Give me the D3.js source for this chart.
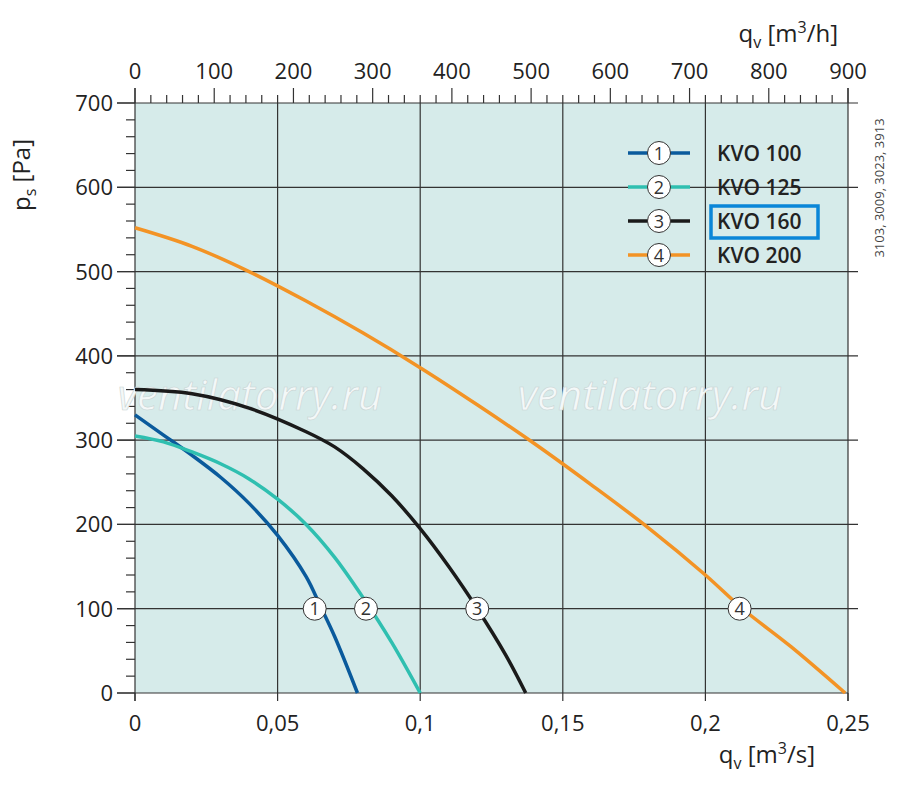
<!DOCTYPE html>
<html><head><meta charset="utf-8">
<script src="https://cdn.jsdelivr.net/npm/d3@7"></script>
<style>body{margin:0;background:#fff}text{font-family:"Open Sans","Noto Sans",sans-serif}</style>
</head><body><svg id="c" width="900" height="786"></svg>
<script>
const names=["KVO 100","KVO 125","KVO 160","KVO 200"];
const colors=["#0a5a9c","#2fbfb0","#1a1a1a","#f39325"];
const s1=[[0,330],[0.01,306],[0.02,282],[0.03,256],[0.04,225],[0.05,187],[0.06,138],[0.065,103],[0.07,67],[0.078,0]];
const s2=[[0,305],[0.01,298],[0.02,286],[0.03,272],[0.04,254],[0.05,230],[0.06,200],[0.07,161],[0.08,113],[0.09,60],[0.1,0]];
const s3=[[0,360],[0.02,355],[0.04,338],[0.06,310],[0.07,292],[0.08,266],[0.09,234],[0.1,195],[0.11,150],[0.12,100],[0.13,45],[0.137,0]];
const s4=[[0,552],[0.02,530],[0.04,500],[0.06,465],[0.08,427],[0.1,386],[0.12,342],[0.14,296],[0.16,247],[0.18,196],[0.2,140],[0.213,100],[0.23,55],[0.249,0]];
const series=[s1,s2,s3,s4];
const markerX=[0.063,0.081,0.12,0.212];
const xTicks=[0,0.05,0.1,0.15,0.2,0.25];
const xTickLabels=["0","0,05","0,1","0,15","0,2","0,25"];
const topTicks=[0,100,200,300,400,500,600,700,800,900];
const yTicks=[0,100,200,300,400,500,600,700];

const svg=d3.select("#c");
const L=135,R=848,T=103,B=693;
const x=d3.scaleLinear().domain([0,0.25]).range([L,R]);
const xt=d3.scaleLinear().domain([0,900]).range([L,R]);
const y=d3.scaleLinear().domain([0,700]).range([B,T]);
svg.append("rect").attr("x",L).attr("y",T).attr("width",R-L).attr("height",B-T).attr("fill","#d6ebea");
const g=svg.append("g").attr("stroke","#333").attr("stroke-width",1.2);
xTicks.slice(1,-1).forEach(v=>g.append("line").attr("x1",x(v)).attr("x2",x(v)).attr("y1",T).attr("y2",B));
yTicks.slice(1,-1).forEach(v=>g.append("line").attr("x1",L-18).attr("x2",R+10).attr("y1",y(v)).attr("y2",y(v)));
g.append("line").attr("x1",L-18).attr("x2",R+10).attr("y1",T).attr("y2",T);
g.append("line").attr("x1",L-18).attr("x2",R).attr("y1",B).attr("y2",B);
g.append("line").attr("x1",L).attr("x2",L).attr("y1",T-15).attr("y2",B+8);
g.append("line").attr("x1",R).attr("x2",R).attr("y1",T-15).attr("y2",B+8);
d3.range(0,901,20).forEach(v=>g.append("line").attr("x1",xt(v)).attr("x2",xt(v)).attr("y1",T).attr("y2",T-(v%100?8:15)));
d3.range(0,701,20).forEach(v=>g.append("line").attr("x1",L).attr("x2",L-(v%100?9:18)).attr("y1",y(v)).attr("y2",y(v)));
xTicks.forEach(v=>g.append("line").attr("x1",x(v)).attr("x2",x(v)).attr("y1",B).attr("y2",B+8));
const ts={"font-size":"22px","fill":"#222"};
function txt(s,xx,yy,a,o){const t=svg.append("text").attr("x",xx).attr("y",yy).attr("text-anchor",a||"middle").text(s);Object.entries(Object.assign({},ts,o||{})).forEach(([k,v])=>t.style(k,v));return t;}
xTicks.forEach((v,i)=>txt(xTickLabels[i],x(v),B+38));
topTicks.forEach(v=>txt(String(v),xt(v),T-24));
yTicks.forEach(v=>txt(String(v),L-22,y(v)+8,"end"));
// watermark
txt("ventilatorry.ru",250,410,"middle",{"font-size":"42px","fill":"#f4f8f8","font-style":"italic","stroke":"#c8d4d4","stroke-width":"0.6px"});
txt("ventilatorry.ru",650,410,"middle",{"font-size":"42px","fill":"#f4f8f8","font-style":"italic","stroke":"#c8d4d4","stroke-width":"0.6px"});
const line=d3.line().x(d=>x(d[0])).y(d=>y(d[1])).curve(d3.curveCatmullRom);
series.forEach((s,i)=>svg.append("path").attr("d",line(s)).attr("fill","none").attr("stroke",colors[i]).attr("stroke-width",3.5));
function badge(cx,cy,n){svg.append("circle").attr("cx",cx).attr("cy",cy).attr("r",11.5).attr("fill","#fff").attr("stroke","#333").attr("stroke-width",1);
 txt(String(n),cx,cy+6.5,"middle",{"font-size":"18px","fill":"#333"});}
markerX.forEach((v,i)=>badge(x(v),y(100),i+1));
names.forEach((n,i)=>{const yy=153+i*34;
 svg.append("line").attr("x1",628).attr("x2",690).attr("y1",yy).attr("y2",yy).attr("stroke",colors[i]).attr("stroke-width",3.5);
 badge(659,yy,i+1);
 txt(n,717,yy+8,"start",{"font-size":"21px","fill":"#222","font-weight":"600"});});
svg.append("rect").attr("x",711).attr("y",206).attr("width",107).attr("height",32).attr("fill","none").attr("stroke","#0a86d8").attr("stroke-width",3.5);
// axis titles
const yt=svg.append("text").attr("transform","translate(30,175) rotate(-90)").attr("text-anchor","middle").style("font-size","24px").style("fill","#222");
yt.append("tspan").text("p");yt.append("tspan").attr("font-size","16px").attr("dy",6).text("s");yt.append("tspan").attr("dy",-6).text("  [Pa]");
const bt=svg.append("text").attr("x",815).attr("y",763).attr("text-anchor","end").style("font-size","24px").style("fill","#222");
bt.append("tspan").text("q");bt.append("tspan").attr("font-size","16px").attr("dy",6).text("v");bt.append("tspan").attr("dy",-6).text("  [m");bt.append("tspan").attr("font-size","16px").attr("dy",-9).text("3");bt.append("tspan").attr("dy",9).text("/s]");
const tt=svg.append("text").attr("x",838).attr("y",42).attr("text-anchor","end").style("font-size","24px").style("fill","#222");
tt.append("tspan").text("q");tt.append("tspan").attr("font-size","16px").attr("dy",6).text("v");tt.append("tspan").attr("dy",-6).text("  [m");tt.append("tspan").attr("font-size","16px").attr("dy",-9).text("3");tt.append("tspan").attr("dy",9).text("/h]");
svg.append("text").attr("transform","translate(884,188) rotate(-90)").attr("text-anchor","middle").style("font-size","13px").style("fill","#444").text("3103, 3009, 3023, 3913");
</script></body></html>
